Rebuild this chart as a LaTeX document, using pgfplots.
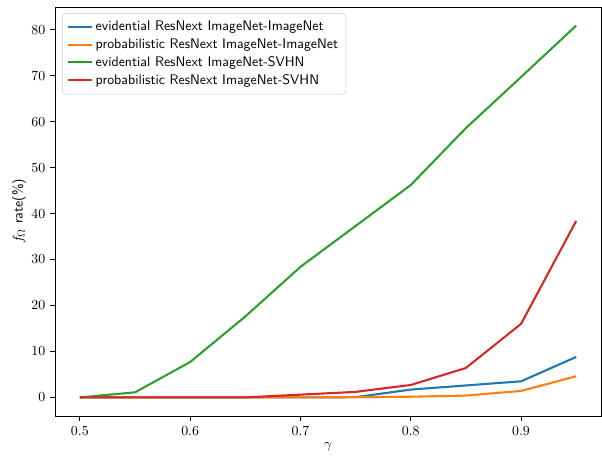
\documentclass[border=0pt]{standalone}
\usepackage{pgfplots}
\pgfplotsset{compat=1.18}
\definecolor{tabblue}{HTML}{1F77B4}
\definecolor{taborange}{HTML}{FF7F0E}
\definecolor{tabgreen}{HTML}{2CA02C}
\definecolor{tabred}{HTML}{D62728}
\begin{document}
\begin{tikzpicture}
\useasboundingbox (-39.6pt,-28.8pt) rectangle (393.8pt,299.5pt);
\begin{axis}[
  at={(0,0)}, anchor=south west,
  scale only axis, width=393.1pt, height=294.5pt,
  xmin=0.4775, xmax=0.9725, ymin=-4.05, ymax=84.95,
  xtick={0.5,0.6,0.7,0.8,0.9},
  xticklabels={0.5,0.6,0.7,0.8,0.9},
  ytick={0,10,20,30,40,50,60,70,80},
  tick align=outside, tick pos=left,
  major tick length=3.5pt,
  tick style={line width=0.6pt, black},
  axis line style={line width=0.6pt},
  xlabel={$\gamma$}, ylabel={$f_{\Omega}$ \textsf{rate(\%)}},
  xlabel style={yshift=2pt},
  ylabel style={yshift=-3pt},
  legend cell align=left,
  legend style={at={(0.0128,0.985)}, anchor=north west, font=\sffamily,
    draw=black!20, rounded corners=2pt, fill=white, fill opacity=0.8, text opacity=1,
    row sep=0.3pt, inner sep=3.5pt},
  legend image code/.code={\draw[#1] (0cm,0cm) -- (0.6cm,0cm);},
  legend image post style={line width=1.5pt},
  every axis plot/.append style={line width=1.5pt},
]
\addplot[tabblue] coordinates {(0.5,0) (0.55,0) (0.6,0) (0.65,0) (0.7,0) (0.75,0.05) (0.8,1.7) (0.85,2.6) (0.9,3.5) (0.95,8.8)};
\addlegendentry{evidential ResNext ImageNet-ImageNet}
\addplot[taborange] coordinates {(0.5,0) (0.55,0) (0.6,0) (0.65,0) (0.7,0) (0.75,0.05) (0.8,0.15) (0.85,0.4) (0.9,1.4) (0.95,4.6)};
\addlegendentry{probabilistic ResNext ImageNet-ImageNet}
\addplot[tabgreen] coordinates {(0.5,0) (0.55,1.1) (0.6,7.7) (0.65,17.6) (0.7,28.4) (0.75,37.3) (0.8,46.2) (0.85,58.6) (0.9,69.7) (0.95,80.9)};
\addlegendentry{evidential ResNext ImageNet-SVHN}
\addplot[tabred] coordinates {(0.5,0) (0.55,0) (0.6,0) (0.65,0) (0.7,0.6) (0.75,1.2) (0.8,2.7) (0.85,6.4) (0.9,16.0) (0.95,38.4)};
\addlegendentry{probabilistic ResNext ImageNet-SVHN}
\end{axis}
\end{tikzpicture}
\end{document}
